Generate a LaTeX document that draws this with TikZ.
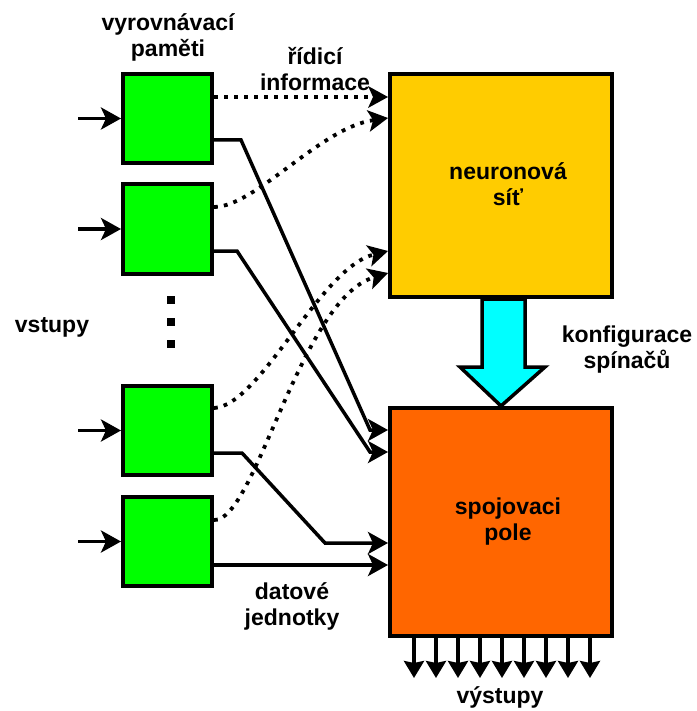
\documentclass[tikz,border=0pt]{standalone}
\usepackage{fontspec}
\setmainfont{Liberation Sans}
\usetikzlibrary{arrows.meta,calc}
\definecolor{bgreen}{HTML}{00FF00}
\definecolor{byellow}{HTML}{FFCC00}
\definecolor{borange}{HTML}{FF6600}
\definecolor{bcyan}{HTML}{00FFFF}
\tikzset{
  lbl/.style={font=\fontsize{23}{26}\selectfont\bfseries, align=center, inner sep=0pt},
  buf/.style={draw, line width=4pt, fill=bgreen, minimum width=89pt, minimum height=89pt, inner sep=0pt},
  bigbox/.style={draw, line width=4pt, minimum width=222pt, inner sep=0pt},
  solidc/.style={line width=3.5pt, -{Stealth[length=20pt,width=22pt,inset=5pt]}},
  dotc/.style={line width=3.8pt, dash pattern=on 3.8pt off 6.2pt, -{Stealth[length=20pt,width=22pt,inset=5pt,line width=0pt]}},
  outc/.style={line width=3.5pt, -{Stealth[length=17pt,width=20pt,inset=2pt]}},
}
\begin{document}
\begin{tikzpicture}[x=1pt,y=-1pt]
\useasboundingbox (0,0) rectangle (696,711);
% buffers
\node[buf] (b1) at (167.5,118.5) {};
\node[buf] (b2) at (167.5,229) {};
\node[buf] (b3) at (167.5,430.5) {};
\node[buf] (b4) at (167.5,541.5) {};
% big boxes
\node[bigbox, fill=byellow, minimum height=223pt] (nn) at (501,185.5) {};
\node[bigbox, fill=borange, minimum height=228pt] (sp) at (501,522) {};
% labels
\node[lbl] (lbuf) at (168,37.5) {vyrovnávací\\paměti};
\node[lbl] (lctl) at (315,69) {řídicí\\informace};
\node[lbl] (lnn) at (508,184) {neuronová\\síť};
\node[lbl] (lsp) at (508,522) {spojovaci\\pole};
\node[lbl] (lkonf) at (627,350) {konfigurace\\spínačů};
\node[lbl] (ldat) at (292,606) {datové\\jednotky};
\node[lbl] (lin) at (52,327) {vstupy};
\node[lbl] (lout) at (500,697) {výstupy};
% vertical dots
\foreach \yy in {300,322,344} \fill (166.5,\yy-4) rectangle (174.5,\yy+4);
% inputs
\foreach \b in {b1,b2,b3,b4} {
  \coordinate (in\b) at ($(\b.west)+(-43,0)$);
  \draw[solidc] (in\b) -- (\b.west);
}
% dotted control lines
\draw[dotc] ($(b1.east)+(0,-21.5)$) -- ($(nn.west)+(0,-88.5)$);
\draw[dotc] ($(b2.east)+(0,-22)$) .. controls (255,207) and (320,128) .. ($(nn.west)+(0,-67.5)$);
\draw[dotc] ($(b3.east)+(0,-22.5)$) .. controls (260,406) and (320,268) .. ($(nn.west)+(0,65.5)$);
\draw[dotc] ($(b4.east)+(0,-21.5)$) .. controls (255,522) and (300,300) .. ($(nn.west)+(0,87.5)$);
% solid data lines
\draw[solidc] ($(b1.east)+(0,21.5)$) -- (241,140) -- (370,430) -- ($(sp.west)+(0,-92)$);
\draw[solidc] ($(b2.east)+(0,22)$) -- (237,251) -- (370,452) -- ($(sp.west)+(0,-70)$);
\draw[solidc] ($(b3.east)+(0,22.5)$) -- (242,453) -- (325,543) -- ($(sp.west)+(0,21)$);
\draw[solidc] ($(b4.east)+(0,23.5)$) -- ($(sp.west)+(0,43)$);
% big configuration arrow
\draw[line width=3.5pt, fill=bcyan, line join=miter]
  ($(nn.south)+(-19,0)$) -- ($(nn.south)+(24,0)$) -- ($(nn.south)+(24,68)$) -- ($(nn.south)+(44,68)$)
  -- (sp.north) -- ($(nn.south)+(-41,68)$) -- ($(nn.south)+(-19,68)$) -- cycle;
% outputs
\foreach \i in {0,...,8} {
  \coordinate (o\i) at ($(sp.south west)+(26+22*\i,0)$);
  \coordinate (oe\i) at ($(o\i)+(0,40)$);
  \draw[outc] (o\i) -- (oe\i);
}
\end{tikzpicture}
\end{document}
